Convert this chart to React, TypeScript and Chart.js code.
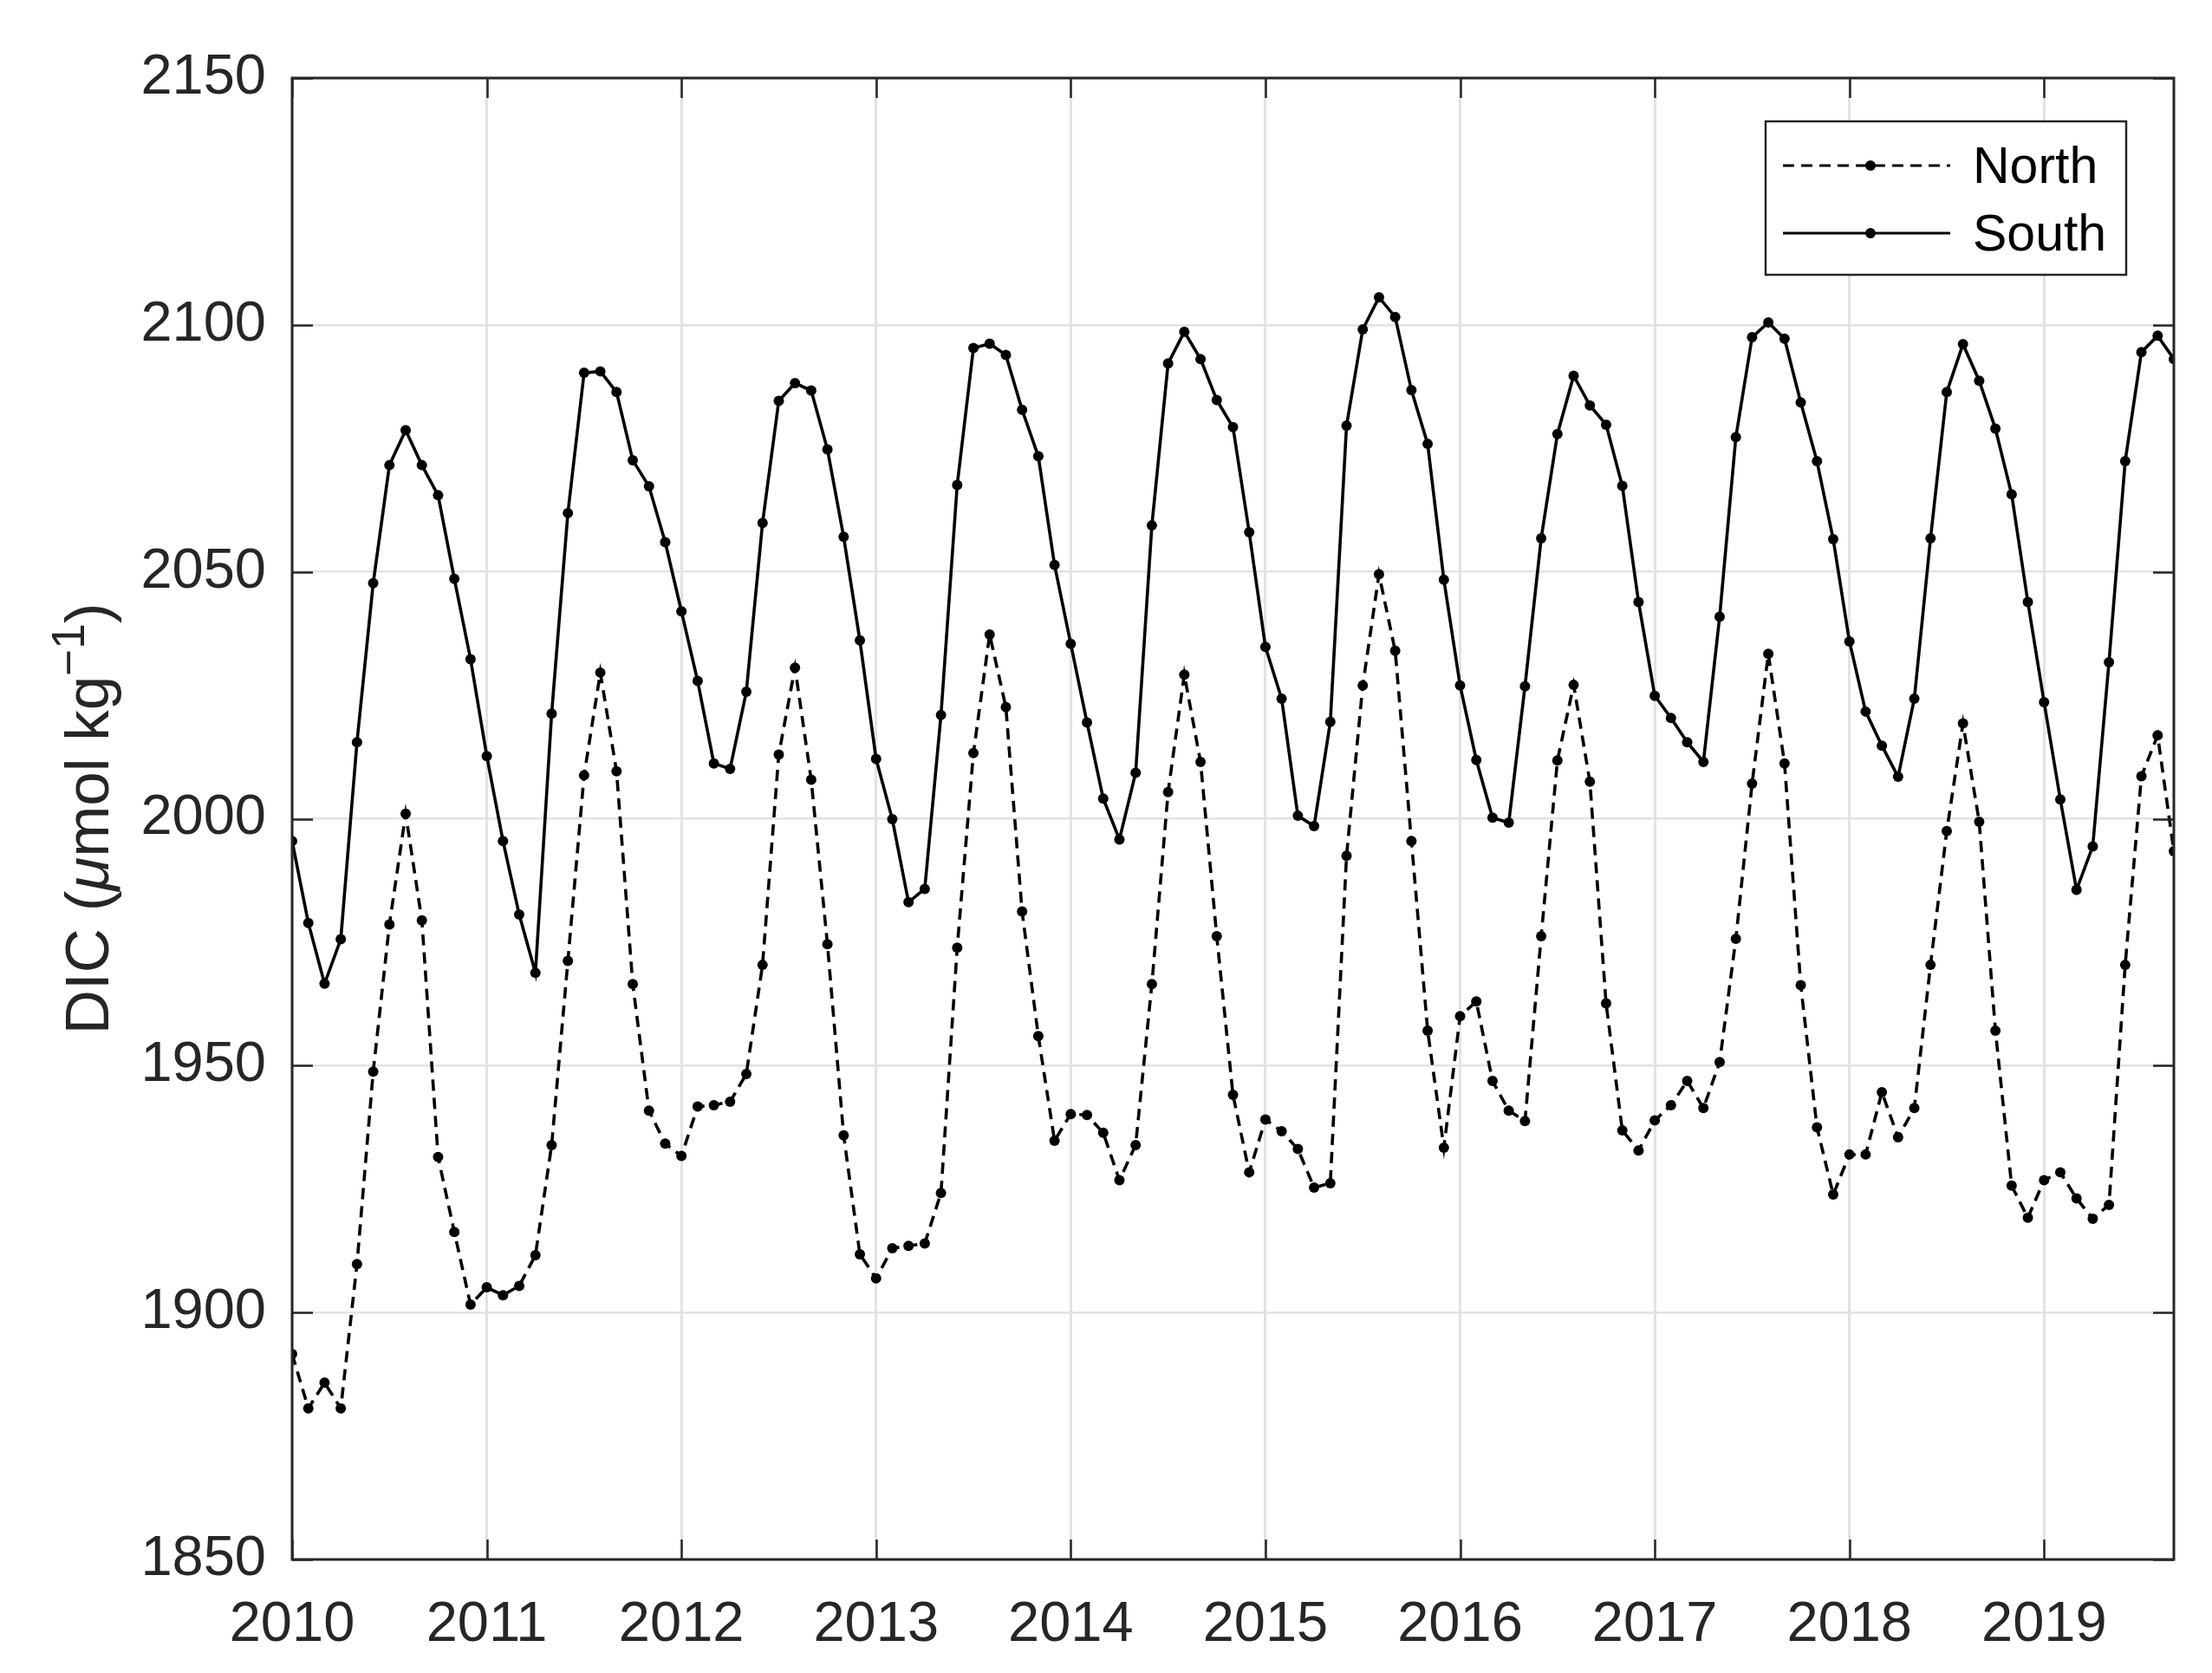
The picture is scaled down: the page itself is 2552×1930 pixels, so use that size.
import { useEffect, useRef } from 'react';
import { Chart, registerables } from 'chart.js';

Chart.register(...registerables);

// ---------- data ----------
const startYear = 2010;
const xTickValues = [2010, 2011, 2012, 2013, 2014, 2015, 2016, 2017, 2018, 2019];
const yTickValues = [1850, 1900, 1950, 2000, 2050, 2100, 2150];
const seriesLabels = ['North', 'South'];

const northValues = [
  1891.6, 1880.6, 1885.8, 1880.6, 1909.8, 1948.8, 1978.6, 2001.0, 1979.4, 1931.5, 1916.3, 1901.6,
  1905.1, 1903.5, 1905.4, 1911.6, 1933.9, 1971.2, 2008.8, 2029.6, 2009.6, 1966.5, 1940.9, 1934.2,
  1931.7, 1941.7, 1942.0, 1942.7, 1948.3, 1970.4, 2013.0, 2030.6, 2007.9, 1974.6, 1935.9, 1911.8,
  1906.9, 1913.0, 1913.5, 1914.0, 1924.2, 1973.9, 2013.3, 2037.3, 2022.6, 1981.2, 1956.0, 1934.8,
  1940.2, 1940.0, 1936.4, 1926.8, 1933.9, 1966.5, 2005.4, 2029.2, 2011.5, 1976.2, 1944.1, 1928.4,
  1939.1, 1936.7, 1933.1, 1925.3, 1926.2, 1992.5, 2027.0, 2049.5, 2034.0, 1995.5, 1957.1, 1933.4,
  1960.0, 1963.0, 1946.9, 1940.9, 1938.8, 1976.2, 2011.8, 2027.1, 2007.5, 1962.6, 1936.9, 1932.8,
  1938.9, 1942.0, 1946.9, 1941.4, 1950.7, 1975.7, 2007.1, 2033.4, 2011.2, 1966.3, 1937.5, 1923.9,
  1932.0, 1932.0, 1944.6, 1935.5, 1941.4, 1970.4, 1997.5, 2019.3, 1999.4, 1957.1, 1925.7, 1919.2,
  1926.8, 1928.4, 1923.1, 1919.0, 1921.8, 1970.4, 2008.6, 2016.9, 1993.4,
];

const southValues = [
  1995.5, 1978.9, 1966.6, 1975.6, 2015.5, 2047.7, 2071.6, 2078.7, 2071.6, 2065.5, 2048.6, 2032.3,
  2012.7, 1995.5, 1980.6, 1968.8, 2021.3, 2061.9, 2090.3, 2090.6, 2086.4, 2072.6, 2067.3, 2056.0,
  2042.0, 2027.9, 2011.2, 2010.1, 2025.7, 2059.9, 2084.6, 2088.2, 2086.7, 2074.8, 2057.1, 2036.1,
  2012.1, 1999.9, 1983.1, 1985.8, 2021.0, 2067.6, 2095.3, 2096.2, 2093.9, 2082.8, 2073.4, 2051.4,
  2035.4, 2019.5, 2004.1, 1995.8, 2009.3, 2059.4, 2092.2, 2098.6, 2093.1, 2084.8, 2079.3, 2058.0,
  2034.8, 2024.3, 2000.6, 1998.5, 2019.6, 2079.6, 2099.1, 2105.6, 2101.6, 2086.8, 2075.9, 2048.4,
  2027.0, 2011.9, 2000.2, 1999.2, 2026.8, 2056.8, 2077.9, 2089.7, 2083.7, 2079.8, 2067.4, 2043.9,
  2024.9, 2020.4, 2015.5, 2011.5, 2040.9, 2077.3, 2097.5, 2100.5, 2097.2, 2084.3, 2072.4, 2056.6,
  2035.9, 2021.7, 2014.8, 2008.5, 2024.3, 2056.8, 2086.4, 2096.1, 2088.7, 2079.0, 2065.7, 2043.9,
  2023.6, 2003.9, 1985.6, 1994.4, 2031.7, 2072.4, 2094.5, 2097.8, 2093.1,
];

// ---------- layout / style ----------
const W = 2552;
const H = 1930;
const AREA = { left: 337, top: 90, right: 2508, bottom: 1799 };
const FONT = "'Liberation Sans', Arial, Helvetica, sans-serif";
const AXIS_COLOR = '#262626';
const TICK_FONT = 65;
const LEGEND_FONT = 59;
const DASH = [13, 8];

const toPoints = (vals: number[]) => vals.map((v, i) => ({ x: startYear + i / 12, y: v }));

const framePlugin = {
  id: 'matlabFrame',
  afterDraw(chart: any) {
    const { ctx, chartArea, scales } = chart;
    const { left, right, top, bottom } = chartArea;
    ctx.save();
    // box
    ctx.strokeStyle = AXIS_COLOR;
    ctx.lineWidth = 3;
    ctx.strokeRect(left, top, right - left, bottom - top);
    // inner ticks
    ctx.lineWidth = 2.5;
    ctx.beginPath();
    yTickValues.forEach((v) => {
      const y = Math.round(scales.y.getPixelForValue(v)) + 0.5;
      ctx.moveTo(left, y);
      ctx.lineTo(left + 24, y);
      ctx.moveTo(right, y);
      ctx.lineTo(right - 24, y);
    });
    xTickValues.forEach((v) => {
      const x = Math.round(scales.x.getPixelForValue(v)) + 0.5;
      ctx.moveTo(x, bottom);
      ctx.lineTo(x, bottom - 23);
      ctx.moveTo(x, top);
      ctx.lineTo(x, top + 23);
    });
    ctx.stroke();

    // legend
    const lx0 = right - 471;
    const ly0 = top + 50;
    const lw = 416;
    const lh = 177;
    ctx.fillStyle = '#ffffff';
    ctx.fillRect(lx0, ly0, lw, lh);
    ctx.strokeStyle = AXIS_COLOR;
    ctx.lineWidth = 2.5;
    ctx.strokeRect(lx0, ly0, lw, lh);
    const rows = [
      { label: seriesLabels[0], dash: DASH, y: ly0 + 51 },
      { label: seriesLabels[1], dash: [] as number[], y: ly0 + 129 },
    ];
    rows.forEach((r) => {
      ctx.strokeStyle = '#000000';
      ctx.lineWidth = 3;
      ctx.setLineDash(r.dash);
      ctx.beginPath();
      ctx.moveTo(lx0 + 20, r.y);
      ctx.lineTo(lx0 + 213, r.y);
      ctx.stroke();
      ctx.setLineDash([]);
      ctx.fillStyle = '#000000';
      ctx.beginPath();
      ctx.arc(lx0 + 121, r.y, 6, 0, Math.PI * 2);
      ctx.fill();
      ctx.font = `${LEGEND_FONT}px ${FONT}`;
      ctx.textBaseline = 'middle';
      ctx.textAlign = 'left';
      ctx.fillText(r.label, lx0 + 239, r.y + 4);
    });

    // y-axis title: DIC (μmol kg^-1)
    const parts = [
      { t: 'DIC (', italic: false, sup: false },
      { t: 'μ', italic: true, sup: false },
      { t: 'mol kg', italic: false, sup: false },
      { t: '\u22121', italic: false, sup: true },
      { t: ')', italic: false, sup: false },
    ];
    const base = 71;
    const supSize = 53;
    const fontFor = (p: any) => `${p.italic ? 'italic ' : ''}${p.sup ? supSize : base}px ${FONT}`;
    let total = 0;
    parts.forEach((p) => {
      ctx.font = fontFor(p);
      total += ctx.measureText(p.t).width;
    });
    const cy = (top + bottom) / 2;
    ctx.translate(125, cy);
    ctx.rotate(-Math.PI / 2);
    ctx.fillStyle = AXIS_COLOR;
    ctx.textAlign = 'left';
    ctx.textBaseline = 'alphabetic';
    let x = -total / 2;
    parts.forEach((p) => {
      ctx.font = fontFor(p);
      ctx.fillText(p.t, x, p.sup ? -28 : 0);
      x += ctx.measureText(p.t).width;
    });
    ctx.restore();
  },
};

export default function App() {
  const ref = useRef<HTMLCanvasElement | null>(null);

  useEffect(() => {
    if (!ref.current) return;
    const chart = new Chart(ref.current, {
      type: 'line',
      data: {
        datasets: [
          {
            label: seriesLabels[0],
            data: toPoints(northValues),
            borderColor: '#000000',
            backgroundColor: '#000000',
            borderWidth: 3.6,
            borderDash: DASH,
            pointRadius: 6,
            pointBorderWidth: 0,
            pointBackgroundColor: '#000000',
            tension: 0,
          },
          {
            label: seriesLabels[1],
            data: toPoints(southValues),
            borderColor: '#000000',
            backgroundColor: '#000000',
            borderWidth: 3.6,
            pointRadius: 6,
            pointBorderWidth: 0,
            pointBackgroundColor: '#000000',
            tension: 0,
          },
        ],
      },
      options: {
        animation: false,
        responsive: false,
        devicePixelRatio: 1,
        parsing: false as any,
        layout: { padding: { top: AREA.top, right: W - AREA.right, left: 0, bottom: 0 } },
        plugins: { legend: { display: false }, tooltip: { enabled: false }, title: { display: false } },
        scales: {
          x: {
            type: 'linear',
            min: startYear,
            max: startYear + (northValues.length - 1) / 12,
            afterBuildTicks: (s: any) => {
              s.ticks = xTickValues.map((v) => ({ value: v }));
            },
            afterFit: (s: any) => {
              s.height = H - AREA.bottom;
            },
            ticks: {
              autoSkip: false,
              maxRotation: 0,
              padding: 37,
              color: AXIS_COLOR,
              font: { family: FONT, size: TICK_FONT },
              callback: (v: any) => String(v),
            },
            grid: { color: '#e2e2e2', lineWidth: 3, drawTicks: false },
            border: { display: false },
          },
          y: {
            type: 'linear',
            min: 1850,
            max: 2150,
            afterBuildTicks: (s: any) => {
              s.ticks = yTickValues.map((v) => ({ value: v }));
            },
            afterFit: (s: any) => {
              s.width = AREA.left;
            },
            ticks: {
              padding: 30,
              color: AXIS_COLOR,
              font: { family: FONT, size: TICK_FONT },
              callback: (v: any) => String(v),
            },
            grid: { color: '#e2e2e2', lineWidth: 2.5, drawTicks: false },
            border: { display: false },
          },
        },
      },
      plugins: [framePlugin],
    } as any);
    return () => chart.destroy();
  }, []);

  return (
    <canvas
      ref={ref}
      width={W}
      height={H}
      style={{ position: 'fixed', left: 0, top: 0, width: W, height: H, background: '#ffffff' }}
    />
  );
}
